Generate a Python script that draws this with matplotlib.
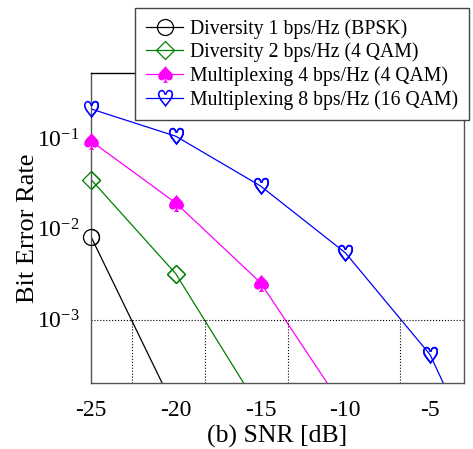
import matplotlib
matplotlib.use('Agg')
import matplotlib.pyplot as plt
from matplotlib.ticker import LogLocator, NullLocator

plt.rcParams['font.family'] = ['Liberation Serif', 'DejaVu Serif']
plt.rcParams['mathtext.fontset'] = 'stix'
plt.rcParams['axes.unicode_minus'] = False

# BER curves (SNR in dB)
snr_div1 = [-25, -20]
ber_div1 = [8.2e-3, 9.8e-5]
snr_div2 = [-25, -20, -15]
ber_div2 = [3.5e-2, 3.2e-3, 1.0e-4]
snr_mux4 = [-25, -20, -15, -10]
ber_mux4 = [9.3e-2, 1.93e-2, 2.55e-3, 1.0e-4]
snr_mux8 = [-25, -20, -15, -10, -5, 0]
ber_mux8 = [0.21, 0.105, 2.97e-2, 5.45e-3, 4.1e-4, 4e-6]

labels = ['Diversity 1 bps/Hz (BPSK)', 'Diversity 2 bps/Hz (4 QAM)',
          'Multiplexing 4 bps/Hz (4 QAM)', 'Multiplexing 8 bps/Hz (16 QAM)']

# SNR where each curve crosses BER = 1e-3
target_ber = 1e-3
cross_snr = [-22.6, -18.3, -13.4, -6.8]

ymin, ymax = 2e-4, 0.52

fig = plt.figure(figsize=(4.73, 4.49), dpi=100)
ax = fig.add_axes([0.1924, 0.147, 0.981 - 0.1924, 0.837 - 0.147])

styles = [
    dict(color='black', marker='o', ms=11.5, mfc='none', mec='black', mew=0.9),
    dict(color='#008000', marker='D', ms=9.5, mfc='none', mec='#008000', mew=0.9),
    dict(color='#ff00ff', marker='$\u2660$', ms=12, mfc='#ff00ff', mec='#ff00ff', mew=0),
    dict(color='#0000ff', marker='$\u2661$', ms=12.5, mfc='#0000ff', mec='#0000ff', mew=0),
]
series = [(snr_div1, ber_div1), (snr_div2, ber_div2),
          (snr_mux4, ber_mux4), (snr_mux8, ber_mux8)]

for (x, y), st, lab in zip(series, styles, labels):
    ax.plot(x, y, lw=0.9, label=lab, **st)
    # redraw the visible markers unclipped so the ones on the left spine show fully
    xs = [a for a, b in zip(x, y) if b >= ymin]
    ys = [b for b in y if b >= ymin]
    ax.plot(xs, ys, ls='none', clip_on=False, zorder=3, **st)

ax.set_yscale('log')
ax.set_xlim(-25, -3)
ax.set_ylim(ymin, ymax)

ax.axhline(target_ber, color='black', ls=':', lw=0.8)
for s in cross_snr:
    ax.plot([s, s], [ymin, target_ber], color='black', ls=':', lw=0.8)

ax.set_xticks([-25, -20, -15, -10, -5])
ax.yaxis.set_major_locator(LogLocator(base=10, numticks=10))
ax.yaxis.set_minor_locator(NullLocator())
ax.tick_params(length=0, labelsize=17)
ax.tick_params(axis='x', pad=12)
ax.tick_params(axis='y', pad=8)

for sp in ax.spines.values():
    sp.set_color('#555555')
    sp.set_linewidth(1.0)
ax.spines['top'].set_color('black')

ax.set_xlabel('(b) SNR [dB]', fontsize=18.5, labelpad=3)
ax.set_ylabel('Bit Error Rate', fontsize=19, labelpad=-1)

leg = fig.legend(loc='upper left', bbox_to_anchor=(135 / 473, 1 - 8 / 449),
                 bbox_transform=fig.transFigure, fontsize=14.2, frameon=True,
                 fancybox=False, labelspacing=0.2, handlelength=1.9,
                 handletextpad=0.35, borderpad=0.55, borderaxespad=0)
leg.get_frame().set_edgecolor('#444444')
leg.get_frame().set_linewidth(1.0)
leg.get_frame().set_alpha(1)

fig.savefig('out.png', dpi=100)
